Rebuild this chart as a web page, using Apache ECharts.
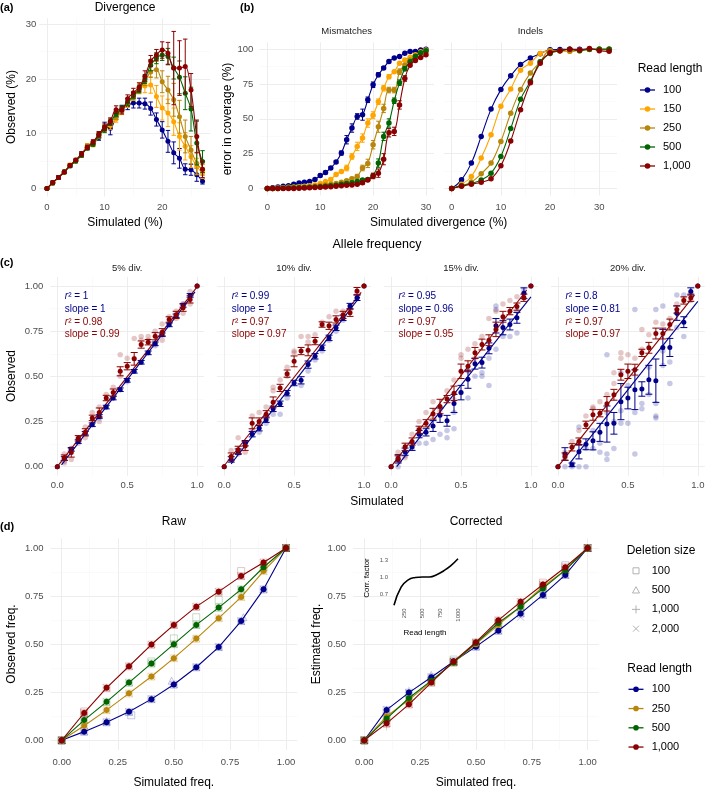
<!DOCTYPE html>
<html><head><meta charset="utf-8">
<script src="https://cdn.jsdelivr.net/npm/echarts@6/dist/echarts.min.js"></script>
<style>html,body{margin:0;padding:0;background:#fff}#c{width:709px;height:792px}</style>
</head><body><div id="c"></div>
<script>
// ---------- shared ----------
const readLengths = ['100','150','250','500','1,000'];
const rlColors = ['#00008B','#FFA500','#B8860B','#006400','#8B0000'];
const dReadLengths = ['100','250','500','1,000'];
const dColors = ['#00008B','#B8860B','#006400','#8B0000'];
const delSizes = ['100','500','1,000','2,000'];

// ---------- panel (a) Divergence ----------
const divX = [0,1,2,3,4,5,6,7,8,9,10,11,12,13,14,15,16,17,18,19,20,21,22,23,24,25,26,27];
const div100 = [0,1,2,3,4.2,5,6.3,7.5,8.2,9.3,11.3,11,13.2,14.5,15.2,15.6,15.6,15.5,14.6,12.6,10.7,8.6,6.5,5.5,3.5,3.4,2.5,1.3];
const divErr100 = [0.2,0.3,0.3,0.3,0.3,0.3,0.4,0.4,0.4,0.5,0.8,1.2,0.6,0.7,0.8,0.9,0.9,1.0,1.2,1.2,1.5,2.0,2.0,1.8,1.0,1.0,1.2,0.5];
const div150 = [0,1,2,3,4.3,5,6.2,7.8,8,9.6,11,11.5,12.7,14.2,15.6,16.9,18.3,18.7,18.9,16.8,14.7,13.8,12.2,9.5,7.7,5.8,4.0,2.8];
const divErr150 = [0.2,0.3,0.3,0.3,0.3,0.3,0.4,0.4,0.4,0.5,0.6,0.7,0.6,0.7,0.8,0.8,1.0,1.2,1.5,2.0,2.2,2.5,2.5,2.5,2.5,2.0,1.5,1.0];
const div250 = [0,1,2,3,4.2,5.1,6.1,7.7,8.3,9.8,11,12,13.1,14.4,15.6,16.7,18,19.6,21.3,21.7,19.5,18,16.2,13.1,9.5,7,4.6,3.4];
const divErr250 = [0.2,0.3,0.3,0.3,0.3,0.3,0.4,0.4,0.4,0.5,0.5,0.5,0.5,0.5,0.5,0.5,0.6,0.8,1.0,1.5,2.0,2.5,3.0,3.0,3.0,2.5,2.0,1.0];
const div500 = [0,1,2,3,4.1,5,6.1,7.4,8.1,9.7,10.8,12.1,13.6,14.6,15.8,17,18.2,20,22.5,23.8,24.4,24.1,22,20.3,17.4,14.5,8.3,4.9];
const divErr500 = [0.2,0.3,0.3,0.3,0.3,0.3,0.4,0.4,0.4,0.5,0.6,0.6,0.5,0.5,0.6,0.6,0.7,0.8,1.0,1.0,1.0,1.5,2.0,3.0,3.0,4.0,4.0,2.0];
const div1000 = [0,1.1,2,3,4.2,5.2,6.3,7.5,8.5,9.9,11.2,12.3,14.4,14.3,16.4,17.5,18.5,20.5,23.3,24.4,25.3,24.7,22,22,22.3,18,9.5,3.5];
const divErr1000 = [0.2,0.3,0.3,0.3,0.3,0.3,0.4,0.4,0.4,0.5,0.6,0.6,0.7,0.7,0.7,0.8,0.8,1.0,1.0,1.0,1.5,2.0,6.7,5.0,5.0,3.0,3.0,1.5];

// ---------- panel (b) Mismatches / Indels ----------
const misX = [0,1,2,3,4,5,6,7,8,9,10,11,12,13,14,15,16,17,18,19,20,21,22,23,24,25,26,27,28,29,30];
const mis100 = [0,0.5,1,1.5,2,3,3.9,4.5,5,6.5,9.3,11.4,14.7,19,25.4,35,43.4,51.7,53,63.7,74.5,81.7,86.5,91.2,93.7,94.8,97.2,98.4,98.4,99.5,100];
const misErr100 = [0,0,0,0,0,0,0,0,0,0,1,1,1,1,1.5,3,3,2,4,2,2,1.5,1,1,0,0,0,0,0,0,0];
const mis150 = [0,0,0.3,0.5,0.8,1,1.3,1.6,2,2.5,3.5,5,6.5,10,12.2,14.7,23,30.2,36.2,47,52.6,62.3,72,80.3,83.9,89.9,92.3,94.2,96,98.3,99.5];
const misErr150 = [0,0,0,0,0,0,0,0,0,0,0,0,1,1,1,2,2,3,3,3,2.5,2,2,1.5,1,0,0,0,0,0,0];
const mis250 = [0,0,0.2,0.3,0.5,0.6,0.8,1,1.2,1.5,2,2.5,3,3.5,4.5,5.5,7,8.6,14.7,18,31.4,44.3,57.5,70.7,70.7,83.9,88.7,92.3,94.8,97.2,98.4];
const misErr250 = [0,0,0,0,0,0,0,0,0,0,0,0,0,0,0,1,1,1.5,2,3,3,4,3,2,2,2,0,0,0,0,0];
const mis500 = [0,0,0,0.2,0.3,0.4,0.5,0.6,0.8,1,1.2,1.5,2,2.3,3,3.5,4,5,6,6.5,9,18.2,37.4,47,63,76,86,91,95,97.5,99];
const misErr500 = [0,0,0,0,0,0,0,0,0,0,0,0,0,0,0,0,0,1,1,1,1.5,3,3,3,2,2,1.5,0,0,0,0];
const mis1000 = [0,0,0,0,0,0,0.2,0.3,0.5,0.6,0.8,1,1.2,1.5,2,2.3,2.5,3,4,6,9,11,21,40,41,60,79,88.5,92,94,96];
const misErr1000 = [0,0,0,0,0,0,0,0,0,0,0,0,0,0,0,0,0,0,1,1,2,3,4,3,3,3,2,0,0,0,0];
const indX = [0,2,4,6,8,10,12,14,16,18,20,22,24,26,28,30,32];
const ind100 = [0,6.2,18.2,37.4,57,71,81,89,93.7,96.8,99.6,99.8,100,100,100,100,100];
const ind150 = [0,3,8.6,21.8,38.6,59,71.4,85,90,97,99,99,98.5,99,100,100,100];
const ind250 = [0,2,4.6,10.6,18.2,33.8,54,71,83,91,99,99,98.5,99.5,99.8,100,100];
const ind500 = [0,2,3.5,6,11,23,43,64,77,91,97,99,100,99,100,100,100];
const ind1000 = [0,1.5,3,4.5,7,16.3,34,56.5,76,90,97.5,99,100,99.5,100.5,99,98.5];

// ---------- panel (c) Allele frequency ----------
const freqX = [0,0.05,0.1,0.15,0.2,0.25,0.3,0.35,0.4,0.45,0.5,0.55,0.6,0.65,0.7,0.75,0.8,0.85,0.9,0.95,1];
const facetLabels = ['5% div.','10% div.','15% div.','20% div.'];
const c5Blue = [0,0.045,0.096,0.139,0.185,0.232,0.278,0.33,0.38,0.426,0.478,0.528,0.578,0.63,0.68,0.73,0.785,0.835,0.893,0.948,1];
const c5BlueErr = [0,0.01,0.01,0.01,0.01,0.01,0.01,0.01,0.01,0.01,0.01,0.01,0.01,0.01,0.01,0.01,0.01,0.01,0.01,0.01,0];
const c5Red = [0,0.05,0.078,0.157,0.19,0.27,0.30,0.38,0.41,0.528,0.556,0.597,0.676,0.689,0.722,0.744,0.815,0.84,0.88,0.926,1];
const c5RedErr = [0,0.015,0.025,0.015,0.02,0.015,0.025,0.015,0.02,0.025,0.02,0.035,0.02,0.015,0.02,0.02,0.015,0.02,0.02,0.02,0];
const c5BlueFaint = [[0.05,0.03],[0.1,0.1],[0.3,0.27],[0.5,0.47],[0.7,0.67],[0.9,0.9]];
const c5RedFaint = [[0.05,0.02],[0.05,0.07],[0.1,0.04],[0.1,0.1],[0.15,0.16],[0.15,0.13],[0.2,0.22],[0.2,0.16],[0.25,0.3],[0.25,0.24],[0.3,0.33],[0.3,0.25],[0.35,0.4],[0.4,0.44],[0.45,0.62],[0.45,0.5],[0.5,0.6],[0.55,0.71],[0.55,0.6],[0.6,0.72],[0.6,0.7],[0.65,0.7],[0.65,0.72],[0.7,0.75],[0.7,0.68],[0.75,0.79],[0.75,0.7],[0.8,0.83],[0.8,0.79],[0.85,0.86],[0.85,0.82],[0.9,0.9],[0.9,0.85],[0.95,0.97],[0.95,0.9]];
const c5BlueFit = [[0.03,0.01],[0.985,0.968]];
const c5RedFit = [[0,0],[1,0.995]];
const c10Blue = [0,0.04,0.083,0.13,0.18,0.213,0.26,0.32,0.348,0.407,0.463,0.478,0.565,0.611,0.658,0.713,0.769,0.824,0.889,0.935,1];
const c10BlueErr = [0,0.015,0.015,0.015,0.015,0.015,0.015,0.015,0.015,0.015,0.015,0.02,0.02,0.015,0.015,0.015,0.015,0.015,0.015,0.015,0];
const c10Red = [0,0.056,0.093,0.115,0.24,0.25,0.29,0.356,0.436,0.515,0.583,0.64,0.644,0.695,0.787,0.78,0.815,0.84,0.852,0.972,1];
const c10RedErr = [0,0.02,0.02,0.025,0.03,0.02,0.02,0.03,0.02,0.02,0.03,0.02,0.03,0.02,0.015,0.02,0.02,0.02,0.02,0.02,0];
const c10BlueFaint = [[0.25,0.19],[0.3,0.24],[0.35,0.29],[0.4,0.29],[0.45,0.38],[0.55,0.45],[0.6,0.53],[0.65,0.59],[0.7,0.64],[0.75,0.7],[0.8,0.75],[0.85,0.81],[0.9,0.87],[0.95,0.93]];
const c10RedFaint = [[0.05,0.09],[0.1,0.07],[0.1,0.16],[0.15,0.08],[0.15,0.13],[0.2,0.28],[0.2,0.2],[0.25,0.3],[0.25,0.22],[0.3,0.28],[0.3,0.33],[0.35,0.44],[0.35,0.42],[0.4,0.48],[0.45,0.55],[0.45,0.5],[0.5,0.63],[0.5,0.64],[0.55,0.72],[0.6,0.72],[0.6,0.69],[0.65,0.73],[0.7,0.8],[0.75,0.83],[0.8,0.86],[0.85,0.86],[0.9,0.88],[0.95,0.96]];
const c10BlueFit = [[0.05,0.015],[0.97,0.94]];
const c10RedFit = [[0,0.005],[0.98,0.965]];
const c15Blue = [0,0.04,0.083,0.11,0.18,0.19,0.225,0.285,0.254,0.35,0.41,0.484,0.57,0.576,0.655,0.78,0.77,0.787,0.824,0.96,1];
const c15BlueErr = [0,0.02,0.02,0.02,0.02,0.02,0.03,0.04,0.03,0.05,0.04,0.05,0.03,0.03,0.03,0.04,0.04,0.03,0.03,0.03,0];
const c15Red = [0,0.047,0.11,0.139,0.204,0.24,0.293,0.333,0.374,0.406,0.528,0.556,0.63,0.676,0.70,0.76,0.83,0.861,0.886,0.935,1];
const c15RedErr = [0,0.02,0.02,0.02,0.02,0.02,0.03,0.04,0.02,0.04,0.04,0.03,0.03,0.03,0.03,0.04,0.03,0.02,0.02,0.02,0];
const c15BlueFaint = [[0.05,0.0],[0.1,0.06],[0.15,0.1],[0.2,0.13],[0.2,0.21],[0.25,0.13],[0.3,0.15],[0.35,0.18],[0.4,0.16],[0.4,0.2],[0.45,0.21],[0.45,0.3],[0.5,0.41],[0.55,0.38],[0.55,0.53],[0.6,0.5],[0.65,0.52],[0.65,0.5],[0.7,0.45],[0.7,0.6],[0.75,0.65],[0.75,0.87],[0.75,0.89],[0.8,0.72],[0.85,0.72],[0.9,0.74],[0.9,0.86],[0.95,0.98]];
const c15RedFaint = [[0.05,0.08],[0.1,0.05],[0.15,0.18],[0.2,0.25],[0.25,0.3],[0.3,0.36],[0.3,0.28],[0.35,0.31],[0.4,0.42],[0.45,0.48],[0.45,0.37],[0.5,0.62],[0.5,0.6],[0.55,0.65],[0.6,0.68],[0.6,0.6],[0.65,0.72],[0.7,0.82],[0.75,0.86],[0.8,0.9],[0.85,0.92],[0.9,0.94],[0.95,0.96]];
const c15BlueFit = [[0.04,0.0],[1.0,0.94]];
const c15RedFit = [[0,0],[0.97,0.978]];
const c20Blue = [0,0.07,0.01,0.083,0.124,0.143,0.19,0.236,0.24,0.36,0.38,0.426,0.43,0.481,0.476,0.66,0.66,0.85,0.80,0.97,1];
const c20BlueErr = [0,0.035,0.01,0.04,0.03,0.05,0.05,0.1,0.06,0.1,0.06,0.11,0.04,0.08,0.12,0.1,0.05,0.04,0.03,0.02,0];
const c20Red = [0,0.056,0.107,0.139,0.232,0.287,0.296,0.348,0.398,0.509,0.528,0.537,0.63,0.658,0.737,0.737,0.787,0.87,0.92,0.935,1];
const c20RedErr = [0,0.02,0.02,0.02,0.02,0.03,0.02,0.04,0.03,0.03,0.04,0.03,0.02,0.03,0.03,0.03,0.03,0.02,0.02,0.02,0];
const c20BlueFaint = [[0.05,0.05],[0.05,0.0],[0.1,0.0],[0.1,0.02],[0.15,0.0],[0.15,0.22],[0.2,0.0],[0.2,0.1],[0.25,0.1],[0.25,0.2],[0.3,0.08],[0.3,0.13],[0.35,0.04],[0.35,0.07],[0.35,0.62],[0.4,0.1],[0.4,0.25],[0.45,0.24],[0.45,0.31],[0.45,0.52],[0.5,0.24],[0.5,0.45],[0.55,0.07],[0.55,0.3],[0.55,0.87],[0.6,0.32],[0.6,0.35],[0.65,0.4],[0.65,0.55],[0.7,0.27],[0.7,0.28],[0.7,0.35],[0.7,0.87],[0.75,0.56],[0.75,0.64],[0.75,0.89],[0.8,0.46],[0.8,0.58],[0.85,0.77],[0.85,0.95],[0.9,0.72],[0.9,0.95],[0.95,0.92]];
const c20RedFaint = [[0.05,0.08],[0.1,0.14],[0.15,0.2],[0.2,0.28],[0.25,0.33],[0.25,0.32],[0.3,0.36],[0.35,0.3],[0.35,0.4],[0.4,0.46],[0.4,0.52],[0.45,0.63],[0.45,0.6],[0.5,0.62],[0.55,0.6],[0.6,0.65],[0.6,0.76],[0.65,0.73],[0.7,0.8],[0.75,0.79],[0.8,0.82],[0.85,0.9],[0.9,0.93],[0.95,0.96]];
const c20BlueFit = [[0.085,0.02],[1.0,0.915]];
const c20RedFit = [[0,0],[0.976,0.95]];
const cStats = [
  ['1','1','0.98','0.99'],
  ['0.99','1','0.97','0.97'],
  ['0.95','0.96','0.97','0.95'],
  ['0.8','0.81','0.97','0.97']
];

// ---------- panel (d) Raw / Corrected ----------
const dX = [0,0.1,0.2,0.3,0.4,0.5,0.6,0.7,0.8,0.9,1];
const raw100 = [0,0.045,0.094,0.148,0.214,0.29,0.38,0.485,0.62,0.785,1];
const raw250 = [0,0.076,0.157,0.244,0.332,0.427,0.529,0.635,0.745,0.88,1];
const raw500 = [0,0.105,0.2,0.3,0.4,0.5,0.6,0.69,0.785,0.9,1];
const raw1000 = [0,0.142,0.273,0.385,0.498,0.6,0.695,0.773,0.854,0.925,1];
const corr100 = [0,0.158,0.248,0.328,0.41,0.487,0.57,0.66,0.756,0.86,1];
const corr250 = [0,0.125,0.21,0.305,0.405,0.5,0.6,0.695,0.8,0.885,1];
const corr500 = [0,0.113,0.22,0.31,0.405,0.506,0.61,0.695,0.79,0.885,1];
const corr1000 = [0,0.088,0.187,0.3,0.41,0.51,0.624,0.72,0.81,0.9,1];
// a few visibly offset replicate markers: [x, y, readLengthIndex, deletionIndex]
const rawExtra = [[0.5,0.53,2,0],[0.6,0.64,2,0],[0.7,0.73,2,0],[0.31,0.13,0,0],[0.49,0.31,0,1],[0.59,0.53,1,1],[0.1,0.15,3,0],[0.81,0.64,0,1],[0.2,0.1,0,1],[0.4,0.41,2,0],[0.8,0.88,3,0]];
const corrExtra = [[0.9,0.91,0,0],[0.8,0.82,3,0],[0.4,0.42,2,0],[0.3,0.34,0,1],[0.2,0.26,0,2],[0.7,0.64,0,3],[0.9,0.86,3,3],[0.1,0.07,3,2]];
const inX = [100,200,300,400,500,600,700,800,900,1000];
const inCorr = [0.5,0.82,0.95,0.99,1.0,1.0,1.04,1.11,1.2,1.32];

// ---------- helpers ----------
const FONT = '"Liberation Sans", Arial, Helvetica, sans-serif';
const grids = [], xAxes = [], yAxes = [], series = [], graphics = [];

function mkAxis(gi, o, dir, main) {
  const vals = main ? o.major : o.minor;
  return {
    type: 'value', gridIndex: gi, min: o.min, max: o.max,
    position: dir === 'x' ? (main ? 'bottom' : 'top') : (main ? 'left' : 'right'),
    axisLine: { show: false },
    axisTick: { show: false, customValues: vals },
    axisLabel: { show: main && o.labels !== false, customValues: vals, formatter: o.fmt,
      margin: o.margin == null ? 6 : o.margin, color: o.labelColor || '#4D4D4D', fontSize: o.fs || 9.5,
      fontFamily: FONT, rotate: o.rotate || 0 },
    splitLine: { show: o.grid !== false, lineStyle: { color: main ? '#EBEBEB' : '#F4F4F4', width: main ? 0.9 : 0.5 } },
    splitArea: { show: false }
  };
}
function addGrid(box, xo, yo) {
  const gi = grids.length;
  grids.push({ left: box[0], top: box[1], width: box[2], height: box[3], containLabel: false });
  const xi = xAxes.length;
  xAxes.push(mkAxis(gi, xo, 'x', true));
  if (xo.minor) xAxes.push(mkAxis(gi, xo, 'x', false));
  const yi = yAxes.length;
  yAxes.push(mkAxis(gi, yo, 'y', true));
  if (yo.minor) yAxes.push(mkAxis(gi, yo, 'y', false));
  return { xi, yi };
}
function errRender(cap) {
  return function (params, api) {
    const x = api.value(0), lo = api.value(1), hi = api.value(2);
    const a = api.coord([x, lo]), b = api.coord([x, hi]);
    const st = { stroke: api.visual('color'), lineWidth: 1 };
    return { type: 'group', children: [
      { type: 'line', shape: { x1: a[0], y1: a[1], x2: b[0], y2: b[1] }, style: st },
      { type: 'line', shape: { x1: a[0] - cap, y1: a[1], x2: a[0] + cap, y2: a[1] }, style: st },
      { type: 'line', shape: { x1: b[0] - cap, y1: b[1], x2: b[0] + cap, y2: b[1] }, style: st }
    ] };
  };
}
function errSeries(ax, xs, ys, es, color, cap, z) {
  const data = [];
  xs.forEach((x, i) => { if (es[i] > 0) data.push([x, ys[i] - es[i], ys[i] + es[i]]); });
  return { type: 'custom', xAxisIndex: ax.xi, yAxisIndex: ax.yi, data, renderItem: errRender(cap),
    itemStyle: { color }, silent: true, z: z || 4, animation: false };
}
function lineSeries(ax, xs, ys, color, o) {
  o = o || {};
  return { type: 'line', xAxisIndex: ax.xi, yAxisIndex: ax.yi, data: xs.map((x, i) => [x, ys[i]]),
    smooth: o.smooth == null ? 0.3 : o.smooth, symbol: o.symbol || 'circle', symbolSize: o.size || 5,
    showSymbol: o.showSymbol !== false,
    lineStyle: { color, width: o.lw || 1.1 }, itemStyle: { color }, z: o.z || 5, silent: true, animation: false };
}
function scatter(ax, data, color, o) {
  o = o || {};
  return { type: 'scatter', xAxisIndex: ax.xi, yAxisIndex: ax.yi, data, symbol: o.symbol || 'circle',
    symbolSize: o.size || 5, itemStyle: Object.assign({ color, opacity: o.opacity == null ? 1 : o.opacity }, o.itemStyle || {}),
    z: o.z || 3, silent: true, animation: false };
}
function txt(x, y, text, o) {
  o = o || {};
  const size = o.size || 12;
  return { type: 'text', x, y, rotation: o.rot || 0, silent: true, z: 100,
    style: { text, fill: o.color || '#000', fontSize: size, fontFamily: FONT, fontWeight: o.weight || 'normal',
      align: o.align || 'center', verticalAlign: o.va || 'middle', rich: o.rich } };
}

// ---------- panel (a) ----------
const fmtInt = v => String(Math.round(v));
const axA = addGrid([39.2, 18.3, 171.1, 178.2],
  { min: -1.35, max: 28.35, major: [0, 10, 20], minor: [5, 15, 25], fmt: fmtInt, margin: 6 },
  { min: -1.48, max: 31.1, major: [0, 10, 20, 30], minor: [5, 15, 25], fmt: fmtInt, margin: 3 });
const divSets = [[div100, divErr100], [div150, divErr150], [div250, divErr250], [div500, divErr500], [div1000, divErr1000]];
divSets.forEach((s, i) => {
  series.push(lineSeries(axA, divX, s[0], rlColors[i], { size: 5, smooth: 0.35, z: 5 + i }));
  series.push(errSeries(axA, divX, s[0], s[1], rlColors[i], 2.2, 5 + i));
});

// ---------- panel (b) ----------
const axBM = addGrid([259.4, 42.3, 174.5, 153.1],
  { min: -1.5, max: 31.5, major: [0, 10, 20, 30], minor: [5, 15, 25], fmt: fmtInt, margin: 6.5 },
  { min: -5, max: 105, major: [0, 25, 50, 75, 100], minor: [12.5, 37.5, 62.5, 87.5], fmt: fmtInt, margin: 6 });
const axBI = addGrid([443.8, 42.3, 173.2, 153.1],
  { min: -1.6, max: 33.6, major: [0, 10, 20, 30], minor: [5, 15, 25], fmt: fmtInt, margin: 6.5 },
  { min: -5, max: 105, major: [0, 25, 50, 75, 100], minor: [12.5, 37.5, 62.5, 87.5], labels: false });
const misSets = [[mis100, misErr100], [mis150, misErr150], [mis250, misErr250], [mis500, misErr500], [mis1000, misErr1000]];
misSets.forEach((s, i) => {
  series.push(lineSeries(axBM, misX, s[0], rlColors[i], { size: 5.5, smooth: 0.4, z: 5 + i }));
  series.push(errSeries(axBM, misX, s[0], s[1], rlColors[i], 2.2, 5 + i));
});
[ind100, ind150, ind250, ind500, ind1000].forEach((s, i) => {
  series.push(lineSeries(axBI, indX, s, rlColors[i], { size: 5.5, smooth: 0.4, z: 5 + i }));
});

// ---------- panel (c) ----------
const fmt1 = v => v.toFixed(1);
const fmt2 = v => v.toFixed(2);
const cLefts = [50.3, 217.2, 384.1, 551.0];
const cBlue = [c5Blue, c10Blue, c15Blue, c20Blue];
const cBlueErr = [c5BlueErr, c10BlueErr, c15BlueErr, c20BlueErr];
const cRed = [c5Red, c10Red, c15Red, c20Red];
const cRedErr = [c5RedErr, c10RedErr, c15RedErr, c20RedErr];
const cBlueFaint = [c5BlueFaint, c10BlueFaint, c15BlueFaint, c20BlueFaint];
const cRedFaint = [c5RedFaint, c10RedFaint, c15RedFaint, c20RedFaint];
const cBlueFit = [c5BlueFit, c10BlueFit, c15BlueFit, c20BlueFit];
const cRedFit = [c5RedFit, c10RedFit, c15RedFit, c20RedFit];
const cB = '#00008B', cR = '#8B0000';
cLefts.forEach((L, f) => {
  const ax = addGrid([L, 277, 153.8, 198.7],
    { min: -0.05, max: 1.05, major: [0, 0.5, 1], minor: [0.25, 0.75], fmt: fmt1, margin: 4.5 },
    { min: -0.05, max: 1.05, major: [0, 0.25, 0.5, 0.75, 1], minor: [0.125, 0.375, 0.625, 0.875], fmt: fmt2, margin: 7, labels: f === 0 });
  series.push(scatter(ax, cBlueFaint[f], cB, { opacity: 0.22, size: 5.5, z: 2 }));
  series.push(scatter(ax, cRedFaint[f], cR, { opacity: 0.22, size: 5.5, z: 2 }));
  series.push({ type: 'line', xAxisIndex: ax.xi, yAxisIndex: ax.yi, data: cBlueFit[f], showSymbol: false,
    lineStyle: { color: cB, width: 1.1 }, z: 3, silent: true, animation: false });
  series.push({ type: 'line', xAxisIndex: ax.xi, yAxisIndex: ax.yi, data: cRedFit[f], showSymbol: false,
    lineStyle: { color: cR, width: 1.1 }, z: 3, silent: true, animation: false });
  series.push(errSeries(ax, freqX, cBlue[f], cBlueErr[f], cB, 3.5, 4));
  series.push(scatter(ax, freqX.map((x, i) => [x, cBlue[f][i]]), cB, { size: 5, z: 5 }));
  series.push(errSeries(ax, freqX, cRed[f], cRedErr[f], cR, 3.5, 6));
  series.push(scatter(ax, freqX.map((x, i) => [x, cRed[f][i]]), cR, { size: 5, z: 7 }));
  // stats text
  const tx = L + 14.5, st = cStats[f];
  const rich = c => ({ i: { fontStyle: 'italic', fontSize: 10, fontFamily: FONT, fill: c } });
  graphics.push(txt(tx, 296.7, '{i|r}\u00B2 = ' + st[0], { size: 10, color: cB, align: 'left', rich: rich(cB) }));
  graphics.push(txt(tx, 309.5, 'slope = ' + st[1], { size: 10, color: cB, align: 'left' }));
  graphics.push(txt(tx, 322, '{i|r}\u00B2 = ' + st[2], { size: 10, color: cR, align: 'left', rich: rich(cR) }));
  graphics.push(txt(tx, 334.5, 'slope = ' + st[3], { size: 10, color: cR, align: 'left' }));
  graphics.push(txt(L + 76.9, 268.3, facetLabels[f], { size: 9.5, color: '#1A1A1A' }));
});

// ---------- panel (d) ----------
const delSymbols = ['rect', 'triangle', 'path://M5,0V10M0,5H10', 'path://M0,0L10,10M10,0L0,10'];
function faintShapes(ax, xs, ys, color) {
  delSymbols.forEach((sym, k) => {
    series.push(scatter(ax, xs.map((x, i) => [x, ys[i]]), color,
      { symbol: sym, size: 7, opacity: 0.2, z: 2, itemStyle: { color: 'rgba(0,0,0,0)', borderColor: color, borderWidth: 0.9 } }));
  });
}
function extraShapes(ax, list) {
  list.forEach(p => {
    const c = dColors[p[2]];
    series.push(scatter(ax, [[p[0], p[1]]], c,
      { symbol: delSymbols[p[3]], size: 7, opacity: 0.25, z: 2, itemStyle: { color: 'rgba(0,0,0,0)', borderColor: c, borderWidth: 0.9 } }));
  });
}
const axRaw = addGrid([50.5, 538.4, 246.7, 211.5],
  { min: -0.05, max: 1.05, major: [0, 0.25, 0.5, 0.75, 1], minor: [0.125, 0.375, 0.625, 0.875], fmt: fmt2, margin: 7 },
  { min: -0.05, max: 1.05, major: [0, 0.25, 0.5, 0.75, 1], minor: [0.125, 0.375, 0.625, 0.875], fmt: fmt2, margin: 7 });
const axCor = addGrid([353.1, 538.4, 245.7, 211.5],
  { min: -0.05, max: 1.05, major: [0, 0.25, 0.5, 0.75, 1], minor: [0.125, 0.375, 0.625, 0.875], fmt: fmt2, margin: 7 },
  { min: -0.05, max: 1.05, major: [0, 0.25, 0.5, 0.75, 1], minor: [0.125, 0.375, 0.625, 0.875], fmt: fmt2, margin: 7 });
[raw100, raw250, raw500, raw1000].forEach((s, i) => {
  faintShapes(axRaw, dX, s, dColors[i]);
  series.push(lineSeries(axRaw, dX, s, dColors[i], { size: 6, smooth: false, z: 5 + i }));
});
extraShapes(axRaw, rawExtra);
[corr100, corr250, corr500, corr1000].forEach((s, i) => {
  faintShapes(axCor, dX, s, dColors[i]);
  series.push(lineSeries(axCor, dX, s, dColors[i], { size: 6, smooth: false, z: 5 + i }));
});
extraShapes(axCor, corrExtra);
// inset
const axIn = addGrid([394, 554.3, 64, 51],
  { min: 100, max: 1000, major: [250, 500, 750, 1000], fmt: fmtInt, rotate: 90, fs: 6, margin: 3, grid: false, labelColor: '#555' },
  { min: 0.5, max: 1.4, major: [0.7, 1.0, 1.3], fmt: fmt1, fs: 6, margin: 6, grid: false, labelColor: '#555' });
series.push(lineSeries(axIn, inX, inCorr, '#000', { showSymbol: false, smooth: 0.5, lw: 1.6, z: 6 }));
graphics.push(txt(425, 633, 'Read length', { size: 8 }));
graphics.push(txt(367, 578, 'Corr. factor', { size: 8, rot: Math.PI / 2 }));

// ---------- titles ----------
graphics.push(txt(0, 8, '(a)', { size: 11, weight: 'bold', align: 'left' }));
graphics.push(txt(125, 8, 'Divergence', { size: 12 }));
graphics.push(txt(240, 8, '(b)', { size: 11, weight: 'bold', align: 'left' }));
graphics.push(txt(346.7, 31, 'Mismatches', { size: 9.5, color: '#1A1A1A' }));
graphics.push(txt(530.4, 31, 'Indels', { size: 9.5, color: '#1A1A1A' }));
graphics.push(txt(125, 223, 'Simulated (%)', { size: 12 }));
graphics.push(txt(438.6, 223, 'Simulated divergence (%)', { size: 12 }));
graphics.push(txt(12, 107, 'Observed (%)', { size: 12, rot: Math.PI / 2 }));
graphics.push(txt(228, 119, 'error in coverage (%)', { size: 12, rot: Math.PI / 2 }));
graphics.push(txt(377, 245, 'Allele frequency', { size: 12.5 }));
graphics.push(txt(0, 263, '(c)', { size: 11, weight: 'bold', align: 'left' }));
graphics.push(txt(12, 376, 'Observed', { size: 12, rot: Math.PI / 2 }));
graphics.push(txt(377, 502, 'Simulated', { size: 12 }));
graphics.push(txt(0, 527, '(d)', { size: 11, weight: 'bold', align: 'left' }));
graphics.push(txt(173.8, 522, 'Raw', { size: 12 }));
graphics.push(txt(476, 522, 'Corrected', { size: 12 }));
graphics.push(txt(12, 644, 'Observed freq.', { size: 12, rot: Math.PI / 2 }));
graphics.push(txt(317, 644, 'Estimated freq.', { size: 12, rot: Math.PI / 2 }));
graphics.push(txt(173.8, 783, 'Simulated freq.', { size: 12 }));
graphics.push(txt(476, 783, 'Simulated freq.', { size: 12 }));

// ---------- legends ----------
function legendLine(x1, x2, y, color) {
  graphics.push({ type: 'line', silent: true, z: 100, shape: { x1, y1: y, x2, y2: y }, style: { stroke: color, lineWidth: 1.3 } });
  graphics.push({ type: 'circle', silent: true, z: 101, shape: { cx: (x1 + x2) / 2, cy: y, r: 2.8 }, style: { fill: color } });
}
graphics.push(txt(637.7, 69, 'Read length', { size: 12, align: 'left' }));
readLengths.forEach((r, i) => {
  const y = 90 + i * 19;
  legendLine(640, 655, y, rlColors[i]);
  graphics.push(txt(663, y, r, { size: 11, align: 'left' }));
});
graphics.push(txt(626.7, 550.7, 'Deletion size', { size: 12, align: 'left' }));
const gy = [570.8, 590.2, 609.4, 628.7];
const gC = '#AAAAAA';
graphics.push({ type: 'rect', silent: true, z: 100, shape: { x: 633, y: gy[0] - 3, width: 6, height: 6 }, style: { stroke: gC, fill: 'none', lineWidth: 0.9 } });
graphics.push({ type: 'polygon', silent: true, z: 100, shape: { points: [[636, gy[1] - 3.5], [639.5, gy[1] + 2.8], [632.5, gy[1] + 2.8]] }, style: { stroke: gC, fill: 'none', lineWidth: 0.9 } });
graphics.push({ type: 'line', silent: true, z: 100, shape: { x1: 632, y1: gy[2], x2: 640, y2: gy[2] }, style: { stroke: gC, lineWidth: 0.9 } });
graphics.push({ type: 'line', silent: true, z: 100, shape: { x1: 636, y1: gy[2] - 4, x2: 636, y2: gy[2] + 4 }, style: { stroke: gC, lineWidth: 0.9 } });
graphics.push({ type: 'line', silent: true, z: 100, shape: { x1: 633, y1: gy[3] - 3, x2: 639, y2: gy[3] + 3 }, style: { stroke: gC, lineWidth: 0.9 } });
graphics.push({ type: 'line', silent: true, z: 100, shape: { x1: 639, y1: gy[3] - 3, x2: 633, y2: gy[3] + 3 }, style: { stroke: gC, lineWidth: 0.9 } });
delSizes.forEach((d, i) => graphics.push(txt(651.7, gy[i], d, { size: 11, align: 'left' })));
graphics.push(txt(627.3, 668.3, 'Read length', { size: 12, align: 'left' }));
dReadLengths.forEach((r, i) => {
  const y = 689.3 + i * 19.25;
  legendLine(628.5, 643.5, y, dColors[i]);
  graphics.push(txt(651.7, y, r, { size: 11, align: 'left' }));
});

const chart = echarts.init(document.getElementById('c'), null, { renderer: 'canvas' });
chart.setOption({
  animation: false,
  backgroundColor: '#ffffff',
  grid: grids, xAxis: xAxes, yAxis: yAxes, series, graphic: graphics
});
</script></body></html>
